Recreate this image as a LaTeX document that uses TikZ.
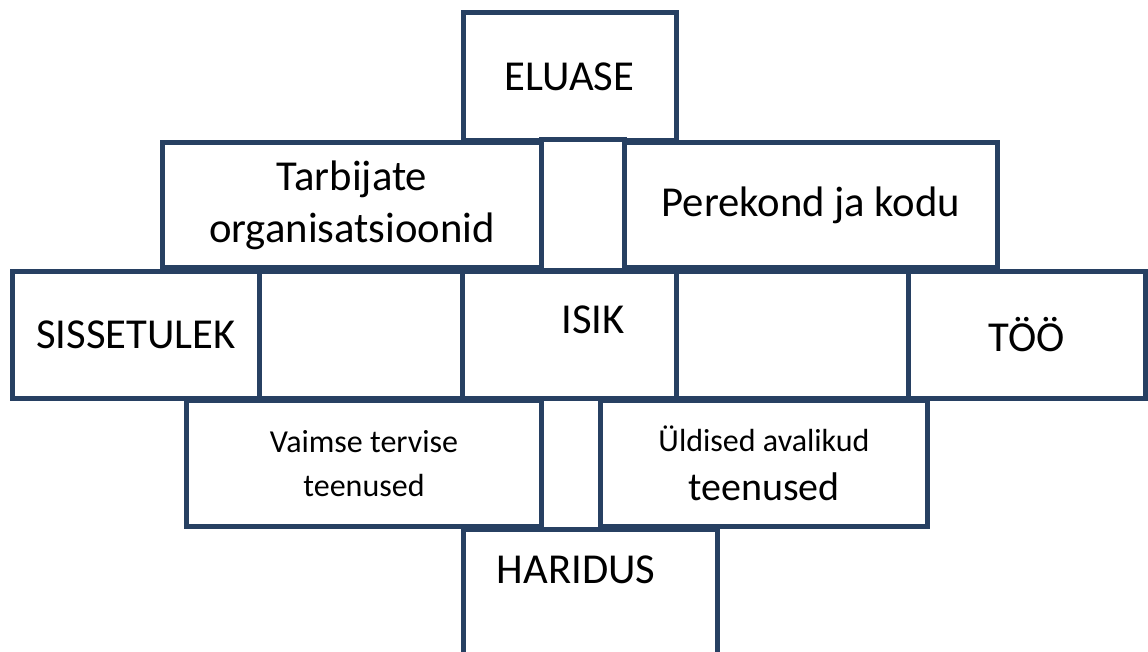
\documentclass[tikz,border=0pt]{standalone}
\usepackage{fontspec}
\setmainfont{Carlito}
\definecolor{frameblue}{RGB}{39,64,98}

\begin{document}
\begin{tikzpicture}
  [x=0.75pt, y=-0.75pt,
   box/.style={draw=frameblue, line width=3.75pt, fill=white, inner sep=0pt,
               align=center, font=\fontsize{32}{39}\selectfont},
   small/.style={font=\fontsize{24}{33}\selectfont},
   txt/.style={inner sep=0pt, font=\fontsize{32}{39}\selectfont}]
  \clip (0,0) rectangle (1148,652);
  \node (eluase) [box, minimum width=159.75pt, minimum height=96pt] at (569.5,77) {ELUASE};
  \node (pillartop) [box, minimum width=62.25pt, minimum height=97.5pt] at (583,205) {};
  \node (tarbijad) [box, minimum width=284.25pt, minimum height=93.75pt] at (352,205) {Tarbijate\\organisatsioonid};
  \node (perekond) [box, minimum width=279.75pt, minimum height=93.75pt] at (811,205) {Perekond ja kodu};
  \node (sissetulek) [box, minimum width=185.25pt, minimum height=95.25pt] at (136,334.5) {SISSETULEK};
  \node (leftgap) [box, minimum width=152.25pt, minimum height=95.25pt] at (361,334.5) {};
  \node (isik) [box, minimum width=160.5pt, minimum height=95.25pt] at (569.5,334.5) {};
  \node (rightgap) [box, minimum width=174pt, minimum height=95.25pt] at (792.5,334.5) {};
  \node (too) [box, minimum width=177.75pt, minimum height=95.25pt] at (1027,334.5) {TÖÖ};
  \node (pillarbot) [box, minimum width=44.25pt, minimum height=98.25pt] at (571,463.5) {};
  \node (vaimne) [box, small, minimum width=266.25pt, minimum height=94.5pt] at (364,463.5) {Vaimse tervise\\teenused};
  \node (avalik) [box, minimum width=245.25pt, minimum height=94.5pt, font=\fontsize{24}{36.75}\selectfont] at (764,463.5)
    {Üldised avalikud\\{\fontsize{30}{36.75}\selectfont teenused}};
  \node (haridus) [box, minimum width=190.5pt, minimum height=128.25pt] at (590.5,614.5) {};
  \node (isiktxt) [txt] at (593,319.5) {ISIK};
  \node (haridustxt) [txt] at (576,570) {HARIDUS};
\end{tikzpicture}
\end{document}
